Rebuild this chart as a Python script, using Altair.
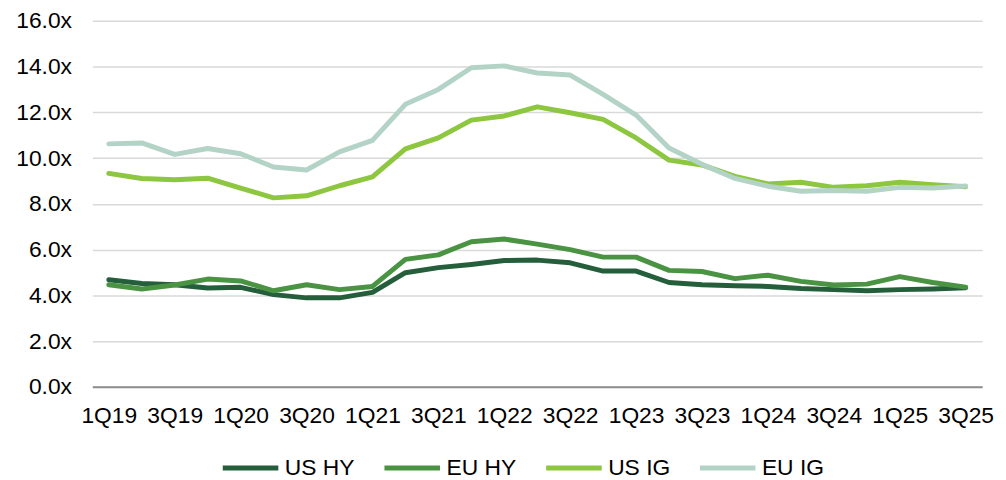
import altair as alt
import pandas as pd

quarters = ["1Q19","2Q19","3Q19","4Q19","1Q20","2Q20","3Q20","4Q20","1Q21","2Q21","3Q21","4Q21",
            "1Q22","2Q22","3Q22","4Q22","1Q23","2Q23","3Q23","4Q23","1Q24","2Q24","3Q24","4Q24",
            "1Q25","2Q25","3Q25"]
tick_labels = ["1Q19","3Q19","1Q20","3Q20","1Q21","3Q21","1Q22","3Q22","1Q23","3Q23","1Q24","3Q24","1Q25","3Q25"]

us_hy = [4.68,4.52,4.46,4.32, 4.35,4.03,3.89,3.89, 4.13,4.99,5.21,5.35, 5.52,5.54,5.42,5.06,
         5.06,4.56,4.46,4.42, 4.39,4.30,4.25,4.20, 4.25,4.28,4.33]
eu_hy = [4.46,4.28,4.45,4.71, 4.63,4.20,4.46,4.25, 4.39,5.57,5.77,6.34, 6.46,6.24,6.00,5.67,
         5.67,5.09,5.04,4.73, 4.88,4.61,4.45,4.49, 4.82,4.56,4.36]
us_ig = [9.33,9.11,9.05,9.12, 8.69,8.26,8.35,8.79, 9.18,10.40,10.88,11.66, 11.84,12.24,11.98,11.69,
         10.88,9.91,9.70,9.20, 8.87,8.94,8.72,8.79, 8.94,8.84,8.75]
eu_ig = [10.62,10.66,10.16,10.42, 10.19,9.61,9.48,10.27, 10.77,12.35,13.00,13.95, 14.03,13.72,13.63,12.78,
         11.88,10.44,9.73,9.11, 8.77,8.55,8.58,8.55, 8.72,8.69,8.78]

series_names = ["US HY", "EU HY", "US IG", "EU IG"]
series_colors = ["#255e3b", "#4a9343", "#8dc63f", "#b3d3c7"]

rows = []
for name, vals in zip(series_names, [us_hy, eu_hy, us_ig, eu_ig]):
    for q, v in zip(quarters, vals):
        rows.append({"quarter": q, "value": v, "series": name, "order": series_names.index(name)})
df = pd.DataFrame(rows)

FONT = "Liberation Sans"

chart = alt.Chart(df).mark_line(strokeWidth=5, strokeJoin="round", strokeCap="round").encode(
    x=alt.X("quarter:N", sort=quarters, title=None,
            scale=alt.Scale(type="point", padding=0.5),
            axis=alt.Axis(values=tick_labels, labelAngle=0, ticks=False, grid=False,
                          domain=True, domainColor="#8c8c8c", domainWidth=2,
                          labelFontSize=23, labelFont=FONT, labelColor="#000000",
                          labelPadding=18, labelOverlap=False)),
    y=alt.Y("value:Q", title=None,
            scale=alt.Scale(domain=[0, 16], nice=False, zero=True),
            axis=alt.Axis(values=[0, 2, 4, 6, 8, 10, 12, 14, 16],
                          labelExpr="format(datum.value, '.1f') + 'x'",
                          ticks=False, domain=False, grid=True,
                          gridColor="#d9d9d9", gridWidth=1.5,
                          labelFontSize=23, labelFont=FONT, labelColor="#000000",
                          labelPadding=21)),
    color=alt.Color("series:N", sort=series_names,
                    scale=alt.Scale(domain=series_names, range=series_colors),
                    legend=alt.Legend(title=None, orient="none", direction="horizontal",
                                      legendX=129, legendY=420,
                                      symbolType="stroke", symbolStrokeWidth=5,
                                      symbolSize=3136, labelFontSize=23, labelFont=FONT,
                                      labelColor="#000000", labelOffset=4,
                                      columnPadding=19, padding=0)),
    order=alt.Order("order:Q"),
).properties(
    width=897, height=369,
    padding={"left": 85, "top": 11, "right": 16, "bottom": 91},
    autosize=alt.AutoSizeParams(type="none"),
).configure_view(stroke=None)

chart.save("out.html", embed_options={"renderer": "svg", "actions": False})
